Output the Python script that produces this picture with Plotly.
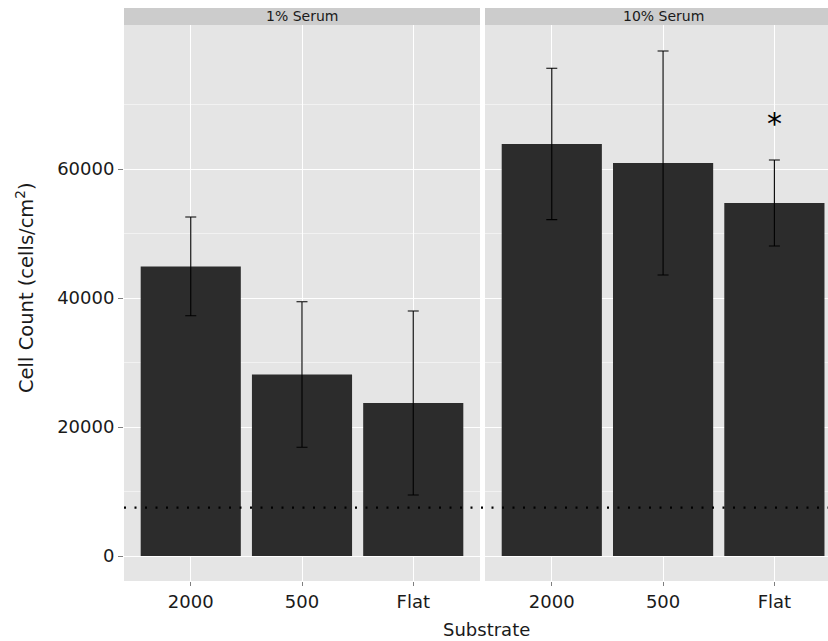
import plotly.graph_objects as go

categories = ["2000", "500", "Flat"]
panels = ["1% Serum", "10% Serum"]
means_1pct = [44900, 28150, 23720]
err_1pct = [7650, 11280, 14260]
means_10pct = [63880, 60930, 54730]
err_10pct = [11730, 17370, 6670]
baseline_value = 7500
star_value = 67000
y_ticks = [0, 20000, 40000, 60000]
y_minor = [10000, 30000, 50000, 70000]

FONT = "DejaVu Sans"
BAR = "#2c2c2c"
PANEL_BG = "#e5e5e5"

fig = go.Figure()
for i, (means, errs) in enumerate([(means_1pct, err_1pct), (means_10pct, err_10pct)]):
    fig.add_trace(go.Bar(
        x=categories, y=means, width=0.9,
        marker=dict(color=BAR, line=dict(width=0)),
        error_y=dict(type="data", array=errs, visible=True, color="black", thickness=1.1, width=5.5),
        xaxis="x" if i == 0 else "x2", yaxis="y" if i == 0 else "y2",
        showlegend=False, hoverinfo="skip",
    ))

W, H = 828, 641
ml, mr, mt, mb = 124, 0, 25, 60
pw = W - ml - mr
ph = H - mt - mb
d1 = [0, (480 - ml) / pw]
d2 = [(485 - ml) / pw, 1]
unit = 111.3
xr1 = [-0.6, 2.6]
xr2 = [-0.6, -0.6 + (W - 485) / unit]
yr = [-3876, 82326]

xcommon = dict(
    type="category", categoryorder="array", categoryarray=categories,
    showgrid=True, gridcolor="white", gridwidth=1.2, zeroline=False,
    ticks="outside", ticklen=4, tickwidth=1, tickcolor="#7f7f7f",
    tickfont=dict(family=FONT, size=18, color="#1a1a1a"),
    showline=False, fixedrange=True,
)
ycommon = dict(
    range=yr, showgrid=True, gridcolor="white", gridwidth=1.2, zeroline=False,
    tickmode="array", tickvals=y_ticks, ticktext=[str(v) for v in y_ticks],
    minor=dict(tickmode="array", tickvals=y_minor, showgrid=True, gridcolor="#f2f2f2", gridwidth=0.6, ticks=""),
    showline=False, fixedrange=True,
)

fig.update_layout(
    width=W, height=H,
    margin=dict(l=ml, r=mr, t=mt, b=mb, autoexpand=False),
    paper_bgcolor="white", plot_bgcolor=PANEL_BG,
    bargap=0.1,
    xaxis=dict(domain=d1, range=xr1, anchor="y", **xcommon),
    xaxis2=dict(domain=d2, range=xr2, anchor="y2", **xcommon),
    yaxis=dict(domain=[0, 1], anchor="x", ticks="outside", ticklen=5, tickwidth=1, tickcolor="#7f7f7f",
               tickfont=dict(family=FONT, size=18, color="#1a1a1a"), **ycommon),
    yaxis2=dict(domain=[0, 1], anchor="x2", matches="y", showticklabels=False, ticks="", **ycommon),
)

# white gap between the two panels
fig.add_shape(type="rect", xref="paper", yref="paper", x0=d1[1], x1=d2[0], y0=0, y1=1,
              fillcolor="white", line=dict(width=0), layer="below")

# strips
strip_h = 17 / ph
for dom, xa, label in [(d1, "x", panels[0]), (d2, "x2", panels[1])]:
    fig.add_shape(type="rect", xref="paper", yref="paper", x0=dom[0], x1=dom[1],
                  y0=1, y1=1 + strip_h, fillcolor="#cccccc", line=dict(width=0))
    fig.add_annotation(text=label, xref=xa, x=1, yref="paper", y=1 + strip_h / 2,
                       xanchor="center", yanchor="middle", showarrow=False,
                       font=dict(family=FONT, size=14, color="#1a1a1a"))

# dotted baseline
fig.add_shape(type="line", xref="paper", yref="y", x0=0, x1=1, y0=baseline_value, y1=baseline_value,
              line=dict(color="black", width=2.2, dash="2px,8.5px"), layer="above")

# significance star
fig.add_annotation(text="*", xref="x2", x=2, yref="y2", y=star_value, showarrow=False,
                   xanchor="center", yanchor="middle", font=dict(family=FONT, size=30, color="black"))

# axis titles
fig.add_annotation(text="Substrate", xref="paper", x=(486 - ml) / pw, yref="paper", y=-(630 - (H - mb)) / ph,
                   xanchor="center", yanchor="middle", showarrow=False,
                   font=dict(family=FONT, size=18, color="#1a1a1a"))
fig.add_annotation(text="Cell Count (cells/cm<sup>2</sup>)", xref="paper", x=(25 - ml) / pw,
                   yref="paper", y=(H - mb - 288) / ph, textangle=-90,
                   xanchor="center", yanchor="middle", showarrow=False,
                   font=dict(family=FONT, size=19.5, color="#1a1a1a"))

fig.write_html("out.html")
